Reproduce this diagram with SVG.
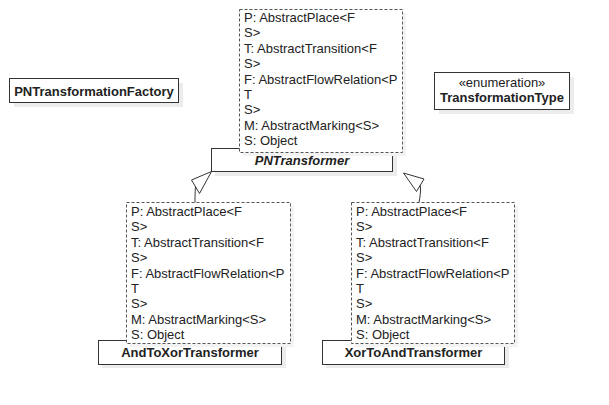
<svg xmlns="http://www.w3.org/2000/svg" width="609" height="405" viewBox="0 0 609 405">
<style>
text{font-family:"Liberation Sans",Arial,sans-serif;font-size:13px;fill:#222}
.b{font-weight:bold}
.bi{font-weight:bold;font-style:italic}
.c{text-anchor:middle}
.cls{fill:#fff;stroke:#333;stroke-width:1}
.sh{fill:#ececec}
.tpl{fill:#fff;stroke:#555;stroke-width:1;stroke-dasharray:3,2}
.tsh{fill:#f3f3f3}
.conn path{fill:none;stroke:#333;stroke-width:1}
.conn polygon{fill:#fff;stroke:#333;stroke-width:1}
</style>
<rect width="609" height="405" fill="#fff"/>

<g id="PNTransformationFactory">
<rect class="sh" x="14" y="83" width="169" height="24"/>
<rect class="cls" x="9.5" y="78.5" width="169" height="24"/>
<text class="b c" x="94" y="96">PNTransformationFactory</text>
</g>

<g id="TransformationType">
<rect class="sh" x="439" y="77" width="135" height="37"/>
<rect class="cls" x="434.5" y="72.5" width="135" height="37"/>
<text class="c" x="502" y="87">«enumeration»</text>
<text class="b c" x="502" y="102">TransformationType</text>
</g>

<g id="PNTransformer">
<rect class="sh" x="215" y="152" width="182" height="24"/>
<rect class="cls" x="211.5" y="148.5" width="181" height="23"/>
<rect class="tsh" x="243" y="13" width="163" height="143"/>
<rect class="tpl" x="239.5" y="9.5" width="163" height="143"/>
<text x="244" y="22">P: AbstractPlace&lt;F</text>
<text x="244" y="37.4">S&gt;</text>
<text x="244" y="52.8">T: AbstractTransition&lt;F</text>
<text x="244" y="68.1">S&gt;</text>
<text x="244" y="83.5">F: AbstractFlowRelation&lt;P</text>
<text x="244" y="98.9">T</text>
<text x="244" y="114.3">S&gt;</text>
<text x="244" y="129.6">M: AbstractMarking&lt;S&gt;</text>
<text x="244" y="145">S: Object</text>
<text class="bi c" x="302" y="165">PNTransformer</text>
</g>

<g id="AndToXorTransformer">
<rect class="sh" x="102" y="344" width="184" height="24"/>
<rect class="cls" x="98.5" y="340.5" width="183" height="24"/>
<rect class="tsh" x="130" y="206" width="164" height="141"/>
<rect class="tpl" x="126.5" y="202.5" width="164" height="141"/>
<text x="131" y="216">P: AbstractPlace&lt;F</text>
<text x="131" y="231.4">S&gt;</text>
<text x="131" y="246.8">T: AbstractTransition&lt;F</text>
<text x="131" y="262.1">S&gt;</text>
<text x="131" y="277.5">F: AbstractFlowRelation&lt;P</text>
<text x="131" y="292.9">T</text>
<text x="131" y="308.3">S&gt;</text>
<text x="131" y="323.6">M: AbstractMarking&lt;S&gt;</text>
<text x="131" y="339">S: Object</text>
<text class="b c" x="190" y="357">AndToXorTransformer</text>
</g>

<g id="XorToAndTransformer">
<rect class="sh" x="326" y="344" width="183" height="24"/>
<rect class="cls" x="322.5" y="340.5" width="182" height="24"/>
<rect class="tsh" x="355" y="206" width="163" height="141"/>
<rect class="tpl" x="351.5" y="202.5" width="163" height="141"/>
<text x="356" y="216">P: AbstractPlace&lt;F</text>
<text x="356" y="231.4">S&gt;</text>
<text x="356" y="246.8">T: AbstractTransition&lt;F</text>
<text x="356" y="262.1">S&gt;</text>
<text x="356" y="277.5">F: AbstractFlowRelation&lt;P</text>
<text x="356" y="292.9">T</text>
<text x="356" y="308.3">S&gt;</text>
<text x="356" y="323.6">M: AbstractMarking&lt;S&gt;</text>
<text x="356" y="339">S: Object</text>
<text class="b c" x="413.5" y="357">XorToAndTransformer</text>
</g>

<g id="connectors" class="conn">
<path d="M195.5,186.7 C195,194 195,198 195,202.5"/>
<polygon points="211.5,171.5 191.5,180 199.5,193.5"/>
<path d="M420.3,185.3 C421,192 420,197 419,202.5"/>
<polygon points="403.5,173 424,179 416.5,191.5"/>
</g>
</svg>
